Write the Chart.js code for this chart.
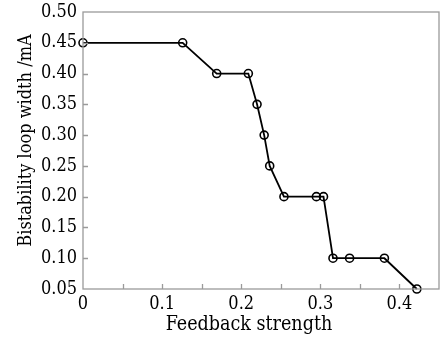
<!DOCTYPE html>
<html>
<head>
<meta charset="utf-8">
<script src="https://cdn.jsdelivr.net/npm/chart.js@4/dist/chart.umd.min.js"></script>
<style>
html,body{margin:0;padding:0;background:#fff;}
#wrap{width:446px;height:339px;position:relative;}
</style>
</head>
<body>
<div id="wrap"><canvas id="c"></canvas></div>
<script>
const feedbackStrength = [0, 0.126, 0.169, 0.209, 0.220, 0.229, 0.236, 0.254, 0.295, 0.304, 0.316, 0.337, 0.381, 0.422];
const loopWidth = [0.45, 0.45, 0.40, 0.40, 0.35, 0.30, 0.25, 0.20, 0.20, 0.20, 0.10, 0.10, 0.10, 0.05];
const xTitle = 'Feedback strength';
const yTitle = 'Bistability loop width /mA';

const points = feedbackStrength.map((x, i) => ({x: x, y: loopWidth[i]}));
const FONT = "'DejaVu Serif Condensed', 'DejaVu Serif', serif";

const frameTicks = {
  id: 'frameTicks',
  afterDatasetsDraw(chart) {
    const ctx = chart.ctx;
    const a = chart.chartArea;
    const xs = chart.scales.x, ys = chart.scales.y;
    const len = 5;
    ctx.save();
    ctx.strokeStyle = '#9a9a9a';
    ctx.lineWidth = 1.3;
    ctx.beginPath();
    xs.ticks.forEach(t => {
      const px = Math.round(xs.getPixelForValue(t.value)) + 0.5;
      if (px <= a.left + 1 || px >= a.right - 1) return;
      ctx.moveTo(px, a.bottom);
      ctx.lineTo(px, a.bottom - len);
    });
    ys.ticks.forEach(t => {
      const py = Math.round(ys.getPixelForValue(t.value)) + 0.5;
      if (py <= a.top + 1 || py >= a.bottom - 1) return;
      ctx.moveTo(a.left, py);
      ctx.lineTo(a.left + len, py);
    });
    ctx.stroke();
    ctx.strokeRect(a.left, a.top, a.right - a.left, a.bottom - a.top);
    ctx.restore();
  },
  afterDraw(chart) {
    const ctx = chart.ctx;
    const a = chart.chartArea;
    ctx.save();
    ctx.fillStyle = '#000';
    ctx.textAlign = 'center';
    ctx.textBaseline = 'alphabetic';
    ctx.font = "19.5px " + FONT;
    ctx.fillText(xTitle, (a.left + a.right) / 2 - 12, 330);
    ctx.font = "18px " + FONT;
    ctx.translate(31, (a.top + a.bottom) / 2 - 10);
    ctx.rotate(-Math.PI / 2);
    ctx.fillText(yTitle, 0, 0);
    ctx.restore();
  }
};

new Chart(document.getElementById('c'), {
  type: 'line',
  data: {
    datasets: [{
      data: points,
      borderColor: '#000',
      borderWidth: 1.8,
      pointRadius: 4,
      pointBorderWidth: 1.6,
      pointBackgroundColor: 'rgba(0,0,0,0)',
      pointBorderColor: '#000',
      tension: 0,
      clip: false
    }]
  },
  options: {
    responsive: true,
    maintainAspectRatio: false,
    animation: false,
    devicePixelRatio: 1,
    layout: { padding: { top: 12, right: 7, left: 0, bottom: 0 } },
    plugins: { legend: { display: false }, tooltip: { enabled: false } },
    scales: {
      x: {
        type: 'linear',
        min: 0, max: 0.45,
        border: { display: false },
        grid: { display: false, drawTicks: false },
        ticks: {
          stepSize: 0.05,
          padding: 5,
          color: '#000',
          font: { family: FONT, size: 18 },
          maxRotation: 0,
          autoSkip: false,
          callback: (v) => {
            const k = Math.round(v * 100);
            if (k % 10 !== 0) return '';
            return k === 0 ? '0' : (k / 100).toFixed(1);
          }
        },
        title: { display: false },
        afterFit: (s) => { s.height = 50; s.paddingLeft = 0; s.paddingRight = 0; }
      },
      y: {
        type: 'linear',
        min: 0.05, max: 0.5,
        border: { display: false },
        grid: { display: false, drawTicks: false },
        ticks: {
          stepSize: 0.05,
          padding: 6,
          color: '#000',
          font: { family: FONT, size: 18 },
          autoSkip: false,
          callback: (v) => v.toFixed(2)
        },
        title: { display: false },
        afterFit: (s) => { s.width = 83; s.paddingTop = 0; s.paddingBottom = 0; }
      }
    }
  },
  plugins: [frameTicks]
});
</script>
</body>
</html>
